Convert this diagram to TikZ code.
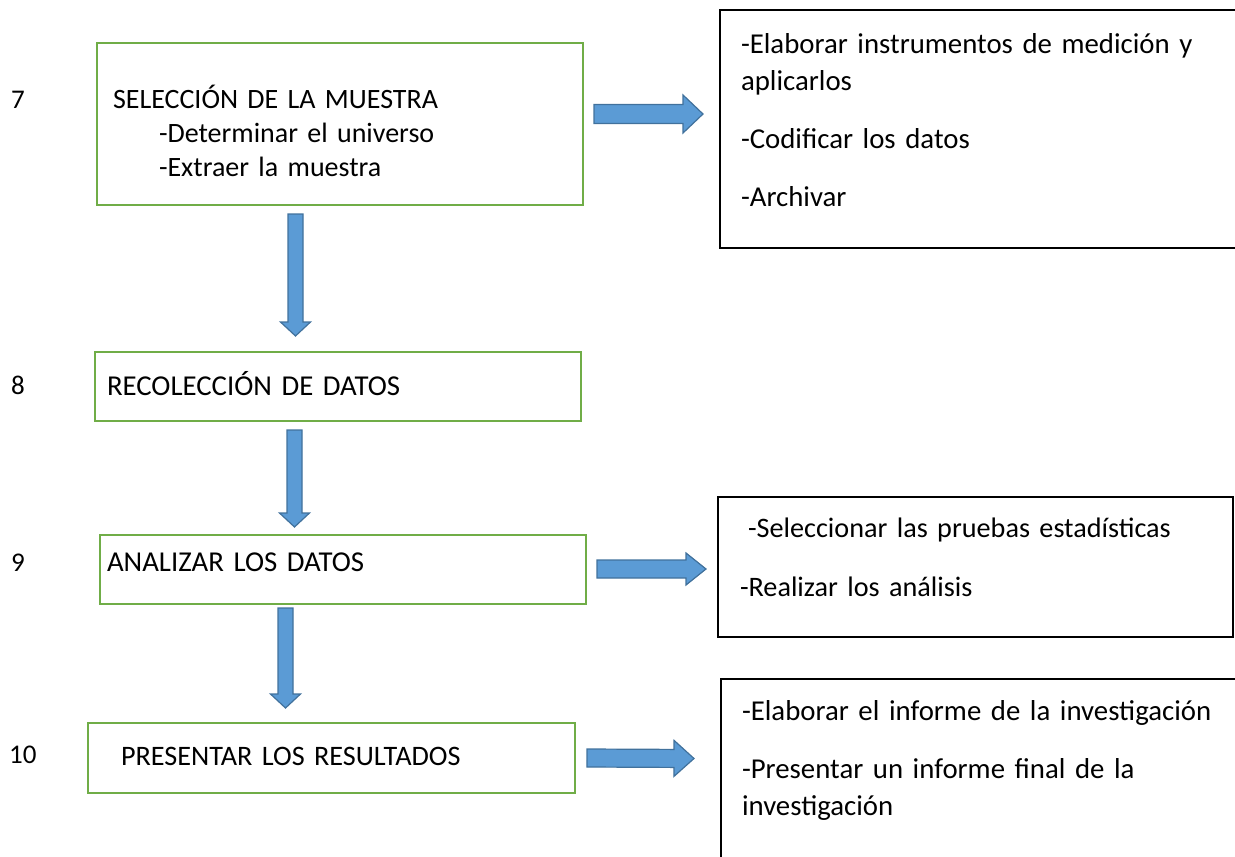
\documentclass[tikz,border=0pt]{standalone}
\usepackage{fontspec}
\setmainfont{Carlito}
\definecolor{stagegreen}{RGB}{112,173,71}
\definecolor{arrowfill}{RGB}{91,155,213}
\definecolor{arrowline}{RGB}{65,113,156}
\usetikzlibrary{calc}
\tikzset{
  box/.style={draw,anchor=north west,outer sep=0pt,inner ysep=0pt,align=left,
              font=\fontsize{14.4}{17}\selectfont},
  stage/.style={box,draw=stagegreen,line width=1.25pt},
  task/.style={box,draw=black,line width=1pt,font=\fontsize{14.4}{18.5}\selectfont},
  num/.style={anchor=west,font=\fontsize{13.5}{17}\selectfont},
  barrow/.style={fill=arrowfill,draw=arrowline,line width=0.6pt,line join=miter},
}
% block arrow: start, end, half shaft, half head, head length
\newcommand\blockarrow[5]{%
  \path #1 coordinate (ba-s) #2 coordinate (ba-e);
  \path ($(ba-e)!#5!(ba-s)$) coordinate (ba-h);
  \draw[barrow] ($(ba-s)!#3!90:(ba-e)$) -- ($(ba-h)!#3!90:(ba-e)$)
    -- ($(ba-h)!#4!90:(ba-e)$) -- (ba-e) -- ($(ba-h)!#4!-90:(ba-e)$)
    -- ($(ba-h)!#3!-90:(ba-e)$) -- ($(ba-s)!#3!-90:(ba-e)$) -- cycle;}
% invisible struts to move text up/down in a box
\newcommand\lift[1]{\rule[-#1]{0pt}{0pt}}
\newcommand\drop[1]{\rule{0pt}{#1}}

\begin{document}
\begin{tikzpicture}[x=0.5pt,y=-0.5pt]
  \useasboundingbox (0,0) rectangle (1235,856);
  \clip (0,0) rectangle (1235,856);
  % stages
  \node[stage,minimum width=243pt,minimum height=81pt,inner xsep=8pt,text width=227pt,
        font=\fontsize{14}{17}\selectfont] (sel) at (97,43)
    {\drop{19pt}SELECCIÓN DE LA MUESTRA\\
     \hspace*{23pt}-Determinar el universo\\\hspace*{23pt}-Extraer la muestra};
  \node[stage,minimum width=243pt,minimum height=34.5pt,inner xsep=6pt,text width=231pt] (rec) at (95,352)
    {RECOLECCIÓN DE DATOS\lift{3pt}};
  \node[stage,minimum width=243pt,minimum height=34.5pt,inner xsep=3.5pt,text width=236pt] (ana) at (100,535)
    {ANALIZAR LOS DATOS\lift{7pt}};
  \node[stage,minimum width=243.5pt,minimum height=35pt,inner xsep=16.5pt,text width=210.5pt,
        font=\fontsize{14.1}{17}\selectfont] (pre) at (88,723)
    {PRESENTAR LOS RESULTADOS\lift{2pt}};
  % numbers
  \node[num] (n7) at (4,100) {7};
  \node[num] (n8) at (4,385) {8};
  \node[num] (n9) at (4,563) {9};
  \node[num] (n10) at (2,755) {10};
  % tasks
  \node[task,minimum width=270pt,minimum height=119pt,inner xsep=10.5pt,text width=249pt] (inst) at (720,10)
    {-Elaborar instrumentos de medición y\\aplicarlos\\[10.5pt]-Codificar los datos\\[10.5pt]-Archivar\lift{9pt}};
  \node[task,minimum width=257.5pt,minimum height=70pt,inner xsep=11pt,text width=235.5pt,
        font=\fontsize{14.1}{18.5}\selectfont] (prue) at (718,497)
    {\hspace*{4pt}-Seleccionar las pruebas estadísticas\\[11pt]-Realizar los análisis\lift{10pt}};
  \node[task,minimum width=270pt,minimum height=90pt,inner xsep=10.5pt,text width=249pt] (inf) at (721,679)
    {-Elaborar el informe de la investigación\\[10.5pt]-Presentar un informe final de la\\investigación\lift{11pt}};
  % arrows
  \blockarrow{($(sel.east)+(11,-10)$)}{($(inst.west)+(-17,-15)$)}{4.75pt}{9.5pt}{10pt}
  \blockarrow{($(sel.south)+(-44.5,9)$)}{($(rec.north)+(-42.5,-16)$)}{3.75pt}{7.5pt}{7pt}
  \blockarrow{($(rec.south)+(-43.5,9)$)}{($(ana.north)+(-48.5,-8)$)}{3.75pt}{7.5pt}{7pt}
  \blockarrow{($(ana.east)+(11,-0.5)$)}{($(prue.west)+(-12,2)$)}{4.5pt}{8pt}{10pt}
  \blockarrow{($(ana.south)+(-57.5,4)$)}{($(pre.north)+(-46,-15)$)}{3.75pt}{7.5pt}{7pt}
  \blockarrow{($(pre.east)+(12,0)$)}{($(inf.west)+(-27,-10.5)$)}{4.5pt}{9pt}{10pt}
\end{tikzpicture}
\end{document}
